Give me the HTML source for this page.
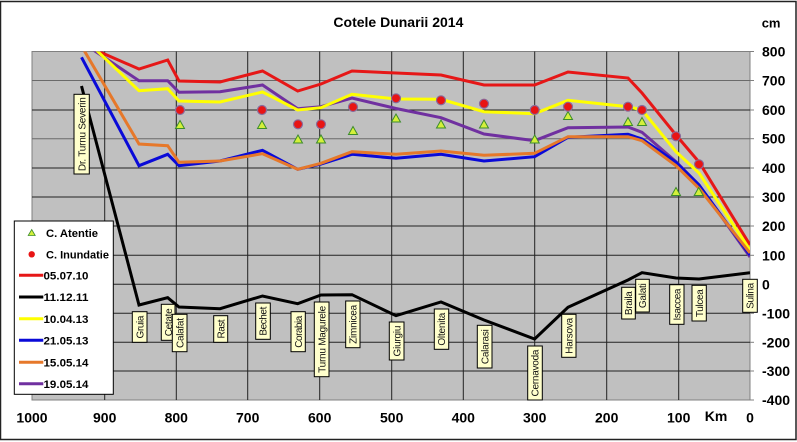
<!DOCTYPE html>
<html><head><meta charset="utf-8"><style>
html,body{margin:0;padding:0;background:#fff;}
svg{display:block;}
text{font-family:"Liberation Sans",Arial,sans-serif;}
</style></head><body>
<svg width="797" height="442" viewBox="0 0 797 442" xmlns="http://www.w3.org/2000/svg">
<rect x="0.5" y="1.5" width="795.5" height="438" fill="#fff" stroke="#222" stroke-width="1.5"/>
<defs><clipPath id="pc"><rect x="32" y="51.5" width="718" height="348.5"/></clipPath></defs>
<!-- plot area -->
<rect x="32" y="51.5" width="718" height="348.5" fill="#c0c0c0" stroke="#808080" stroke-width="1"/>
<g stroke-width="1" fill="none">
<line x1="32" y1="80.5" x2="750" y2="80.5" stroke="#6a6a6a"/>
<line x1="32" y1="110" x2="750" y2="110" stroke="#222"/>
<line x1="32" y1="138.7" x2="750" y2="138.7" stroke="#6a6a6a"/>
<line x1="32" y1="168" x2="750" y2="168" stroke="#222"/>
<line x1="32" y1="197" x2="750" y2="197" stroke="#222"/>
<line x1="32" y1="226" x2="750" y2="226" stroke="#222"/>
<line x1="32" y1="255.3" x2="750" y2="255.3" stroke="#222"/>
<line x1="32" y1="284.3" x2="750" y2="284.3" stroke="#222"/>
<line x1="32" y1="313.3" x2="750" y2="313.3" stroke="#222"/>
<line x1="32" y1="342.3" x2="750" y2="342.3" stroke="#222"/>
<line x1="32" y1="371" x2="750" y2="371" stroke="#222"/>
<g stroke="#222">
<line x1="104.7" y1="51.5" x2="104.7" y2="400"/>
<line x1="176.3" y1="51.5" x2="176.3" y2="400"/>
<line x1="247.7" y1="51.5" x2="247.7" y2="400"/>
<line x1="319.7" y1="51.5" x2="319.7" y2="400"/>
<line x1="391.7" y1="51.5" x2="391.7" y2="400"/>
<line x1="463.3" y1="51.5" x2="463.3" y2="400"/>
<line x1="534.7" y1="51.5" x2="534.7" y2="400"/>
<line x1="606.7" y1="51.5" x2="606.7" y2="400"/>
<line x1="678.7" y1="51.5" x2="678.7" y2="400"/>
</g>
<g stroke="#808080">
<line x1="750" y1="51.5" x2="754" y2="51.5"/><line x1="750" y1="80.5" x2="754" y2="80.5"/>
<line x1="750" y1="110" x2="754" y2="110"/><line x1="750" y1="138.7" x2="754" y2="138.7"/>
<line x1="750" y1="168" x2="754" y2="168"/><line x1="750" y1="197" x2="754" y2="197"/>
<line x1="750" y1="226" x2="754" y2="226"/><line x1="750" y1="255.3" x2="754" y2="255.3"/>
<line x1="750" y1="284.3" x2="754" y2="284.3"/><line x1="750" y1="313.3" x2="754" y2="313.3"/>
<line x1="750" y1="342.3" x2="754" y2="342.3"/><line x1="750" y1="371" x2="754" y2="371"/>
<line x1="750" y1="400" x2="754" y2="400"/>
</g>
</g>
<!-- series -->
<g clip-path="url(#pc)" fill="none" stroke-width="3" stroke-linejoin="miter">
<polyline stroke="#000" points="81.5,86 139,305 167.7,297.7 179,307 220,308.7 262.5,296 297.7,303.7 321,295 352,294.7 396,315.7 441,302 484,320 534.6,339 568,307.3 628,280 642,272.7 676,278 699,279 750,272.7"/>
<polyline stroke="#e61717" points="81.5,44 139,69 167.7,60 179,81 220,82 262.5,71 297.7,91 321,84 352,71 396,73 441,75 484,85 534.6,85 568,72 628,78 642,93 676,135 699,162 750,245"/>
<polyline stroke="#7030a0" points="81.5,42 139,80.7 167.7,80.7 179,92.3 220,91.7 262.5,85 297.7,108.7 321,106.7 352,98 396,108.5 441,117.7 484,134 534.6,140.7 568,127.7 628,127 642,132.3 676,161.7 699,185 750,257"/>
<polyline stroke="#ffff00" points="81.5,36 139,90.7 167.7,88.7 179,101 220,102 262.5,92 297.7,110 321,107.7 352,94.3 396,99 441,99.3 484,111.7 534.6,113.7 568,100.3 628,106.7 642,110 676,151.7 699,173 750,250"/>
<polyline stroke="#0a0ad8" points="81.5,57.3 139,165.7 167.7,154.3 179,165.7 220,161 262.5,150.3 297.7,169.3 321,164 352,154.3 396,158.3 441,154.3 484,161 534.6,156.7 568,137.3 628,134.3 642,139 676,162.3 699,185 750,255"/>
<polyline stroke="#e6782a" points="81.5,46 139,144 167.7,145.7 179,162.3 220,161 262.5,153.7 297.7,169.3 321,163.3 352,151.7 396,154.3 441,151 484,155.3 534.6,153.3 568,136.7 628,136.7 642,140.7 676,165.7 699,188.3 750,253"/>
</g>
<!-- markers: triangles -->
<g fill="#d4f03a" stroke="#3c8c2c" stroke-width="1">
<polygon points="180,120.5 184.5,128.5 175.5,128.5"/>
<polygon points="262,120.5 266.5,128.5 257.5,128.5"/>
<polygon points="298,135 302.5,143 293.5,143"/>
<polygon points="321,135 325.5,143 316.5,143"/>
<polygon points="353,126.5 357.5,134.5 348.5,134.5"/>
<polygon points="396,114 400.5,122 391.5,122"/>
<polygon points="441,120 445.5,128 436.5,128"/>
<polygon points="484,120 488.5,128 479.5,128"/>
<polygon points="534.7,135 539.2,143 530.2,143"/>
<polygon points="568,111.5 572.5,119.5 563.5,119.5"/>
<polygon points="628,117.5 632.5,125.5 623.5,125.5"/>
<polygon points="642,117.5 646.5,125.5 637.5,125.5"/>
<polygon points="676,187.5 680.5,195.5 671.5,195.5"/>
<polygon points="698.7,187.5 703.2,195.5 694.2,195.5"/>
</g>
<!-- markers: circles -->
<g fill="#e81414" stroke="#8a6a9a" stroke-width="1.2">
<circle cx="180" cy="110" r="4.5"/>
<circle cx="262" cy="110" r="4.5"/>
<circle cx="298" cy="124.3" r="4.5"/>
<circle cx="321" cy="124.3" r="4.5"/>
<circle cx="353" cy="107" r="4.5"/>
<circle cx="396" cy="98.3" r="4.5"/>
<circle cx="441" cy="100.3" r="4.5"/>
<circle cx="484" cy="103.7" r="4.5"/>
<circle cx="534.7" cy="110" r="4.5"/>
<circle cx="568" cy="106.7" r="4.5"/>
<circle cx="628" cy="106.7" r="4.5"/>
<circle cx="642" cy="110" r="4.5"/>
<circle cx="676" cy="136.3" r="4.5"/>
<circle cx="699" cy="164.3" r="4.5"/>
</g>
<!-- station labels -->
<g font-size="10" fill="#111">
<g><rect x="74" y="94.3" width="15.3" height="79.7" fill="#ffffcc" stroke="#000" stroke-width="1"/><text transform="translate(81.65,134.15) rotate(-90)" text-anchor="middle" dy="3.6" textLength="74">Dr. Turnu Severin</text></g>
<g><rect x="132.3" y="311.7" width="14.7" height="30.6" fill="#ffffcc" stroke="#000"/><text transform="translate(139.65,327) rotate(-90)" text-anchor="middle" dy="3.6" textLength="23">Gruia</text></g>
<g><rect x="161.3" y="304.3" width="13.7" height="36" fill="#ffffcc" stroke="#000"/><text transform="translate(168.15,322.3) rotate(-90)" text-anchor="middle" dy="3.6" textLength="28">Cetate</text></g>
<g><rect x="172.3" y="314.3" width="14.7" height="37.4" fill="#ffffcc" stroke="#000"/><text transform="translate(179.65,333) rotate(-90)" text-anchor="middle" dy="3.6" textLength="30">Calafat</text></g>
<g><rect x="213.7" y="315.7" width="14" height="26.6" fill="#ffffcc" stroke="#000"/><text transform="translate(220.7,329) rotate(-90)" text-anchor="middle" dy="3.6" textLength="19">Rast</text></g>
<g><rect x="255.7" y="303" width="14.6" height="36.3" fill="#ffffcc" stroke="#000"/><text transform="translate(263,321.15) rotate(-90)" text-anchor="middle" dy="3.6" textLength="29">Bechet</text></g>
<g><rect x="291" y="311.7" width="14.3" height="40" fill="#ffffcc" stroke="#000"/><text transform="translate(298.15,331.7) rotate(-90)" text-anchor="middle" dy="3.6" textLength="32">Corabia</text></g>
<g><rect x="314.3" y="302" width="14.7" height="74.7" fill="#ffffcc" stroke="#000"/><text transform="translate(321.65,339.35) rotate(-90)" text-anchor="middle" dy="3.6" textLength="67">Turnu Magurele</text></g>
<g><rect x="345.7" y="301" width="14.3" height="46.7" fill="#ffffcc" stroke="#000"/><text transform="translate(352.85,324.35) rotate(-90)" text-anchor="middle" dy="3.6" textLength="39">Zimnicea</text></g>
<g><rect x="389.3" y="322" width="14.7" height="38" fill="#ffffcc" stroke="#000"/><text transform="translate(396.65,341) rotate(-90)" text-anchor="middle" dy="3.6" textLength="31">Giurgiu</text></g>
<g><rect x="434.3" y="309" width="14.4" height="40.3" fill="#ffffcc" stroke="#000"/><text transform="translate(441.5,329.15) rotate(-90)" text-anchor="middle" dy="3.6" textLength="33">Oltenita</text></g>
<g><rect x="477.3" y="325.3" width="14.7" height="42.7" fill="#ffffcc" stroke="#000"/><text transform="translate(484.65,346.65) rotate(-90)" text-anchor="middle" dy="3.6" textLength="35">Calarasi</text></g>
<g><rect x="527.7" y="346" width="14.6" height="54" fill="#ffffcc" stroke="#000"/><text transform="translate(535,373) rotate(-90)" text-anchor="middle" dy="3.6" textLength="47">Cernavoda</text></g>
<g><rect x="561.7" y="314.3" width="14.3" height="43" fill="#ffffcc" stroke="#000"/><text transform="translate(568.85,335.8) rotate(-90)" text-anchor="middle" dy="3.6" textLength="36">Harsova</text></g>
<g><rect x="621.7" y="287.3" width="13.6" height="31.7" fill="#ffffcc" stroke="#000"/><text transform="translate(628.5,303.15) rotate(-90)" text-anchor="middle" dy="3.6" textLength="24">Braila</text></g>
<g><rect x="635.7" y="279.3" width="13.6" height="32.7" fill="#ffffcc" stroke="#000"/><text transform="translate(642.5,295.65) rotate(-90)" text-anchor="middle" dy="3.6" textLength="25">Galati</text></g>
<g><rect x="669.7" y="284.7" width="14.3" height="39.6" fill="#ffffcc" stroke="#000"/><text transform="translate(676.85,304.5) rotate(-90)" text-anchor="middle" dy="3.6" textLength="32">Isaccea</text></g>
<g><rect x="692" y="285.3" width="14.3" height="35.7" fill="#ffffcc" stroke="#000"/><text transform="translate(699.15,303.15) rotate(-90)" text-anchor="middle" dy="3.6" textLength="28">Tulcea</text></g>
<g><rect x="742.7" y="279.3" width="14.6" height="33" fill="#ffffcc" stroke="#000"/><text transform="translate(750,295.8) rotate(-90)" text-anchor="middle" dy="3.6" textLength="26">Sulina</text></g>
</g>
<!-- legend -->
<rect x="14.3" y="221" width="99" height="173.3" fill="#fff" stroke="#000" stroke-width="1"/>
<polygon points="31.7,229.5 35.2,235.5 28.2,235.5" fill="#d4f03a" stroke="#3c8c2c" stroke-width="0.8"/>
<circle cx="31.7" cy="254.3" r="3.2" fill="#e81414"/>
<g stroke-width="3">
<line x1="19" y1="275.3" x2="43.3" y2="275.3" stroke="#e61717"/>
<line x1="19" y1="297" x2="43.3" y2="297" stroke="#000"/>
<line x1="19" y1="318.7" x2="43.3" y2="318.7" stroke="#ffff00"/>
<line x1="19" y1="340.3" x2="43.3" y2="340.3" stroke="#0a0ad8"/>
<line x1="19" y1="362.3" x2="43.3" y2="362.3" stroke="#e6782a"/>
<line x1="19" y1="383.7" x2="43.3" y2="383.7" stroke="#7030a0"/>
</g>
<g font-size="11" font-weight="bold" fill="#000">
<text x="46" y="236.8" textLength="52" lengthAdjust="spacingAndGlyphs">C. Atentie</text>
<text x="46" y="258.4" textLength="63" lengthAdjust="spacingAndGlyphs">C. Inundatie</text>
<text x="43.5" y="279.4" textLength="45" lengthAdjust="spacingAndGlyphs">05.07.10</text>
<text x="43.5" y="301.1" textLength="45" lengthAdjust="spacingAndGlyphs">11.12.11</text>
<text x="43.5" y="322.8" textLength="45" lengthAdjust="spacingAndGlyphs">10.04.13</text>
<text x="43.5" y="344.4" textLength="45" lengthAdjust="spacingAndGlyphs">21.05.13</text>
<text x="43.5" y="366.4" textLength="45" lengthAdjust="spacingAndGlyphs">15.05.14</text>
<text x="43.5" y="387.8" textLength="45" lengthAdjust="spacingAndGlyphs">19.05.14</text>
</g>
<!-- title and axis labels -->
<text x="398.4" y="27" font-size="14" font-weight="bold" text-anchor="middle" fill="#000">Cotele Dunarii 2014</text>
<text x="761.7" y="27.3" font-size="13" font-weight="bold" fill="#000">cm</text>
<g font-size="14" font-weight="bold" fill="#000">
<text x="762" y="56.5">800</text>
<text x="762" y="85.5">700</text>
<text x="762" y="115">600</text>
<text x="762" y="143.7">500</text>
<text x="762" y="173">400</text>
<text x="762" y="202">300</text>
<text x="762" y="231">200</text>
<text x="762" y="260.3">100</text>
<text x="762" y="289.3">0</text>
<text x="762" y="318.3">-100</text>
<text x="762" y="347.3">-200</text>
<text x="762" y="376">-300</text>
<text x="762" y="405">-400</text>
</g>
<g font-size="14" font-weight="bold" fill="#000" text-anchor="middle">
<text x="32" y="422.7">1000</text>
<text x="104.7" y="422.7">900</text>
<text x="176.3" y="422.7">800</text>
<text x="247.7" y="422.7">700</text>
<text x="319.7" y="422.7">600</text>
<text x="391.7" y="422.7">500</text>
<text x="463.3" y="422.7">400</text>
<text x="534.7" y="422.7">300</text>
<text x="606.7" y="422.7">200</text>
<text x="678.7" y="422.7">100</text>
<text x="716" y="421">Km</text>
<text x="750" y="422.7">0</text>
</g>
</svg>
</body></html>
